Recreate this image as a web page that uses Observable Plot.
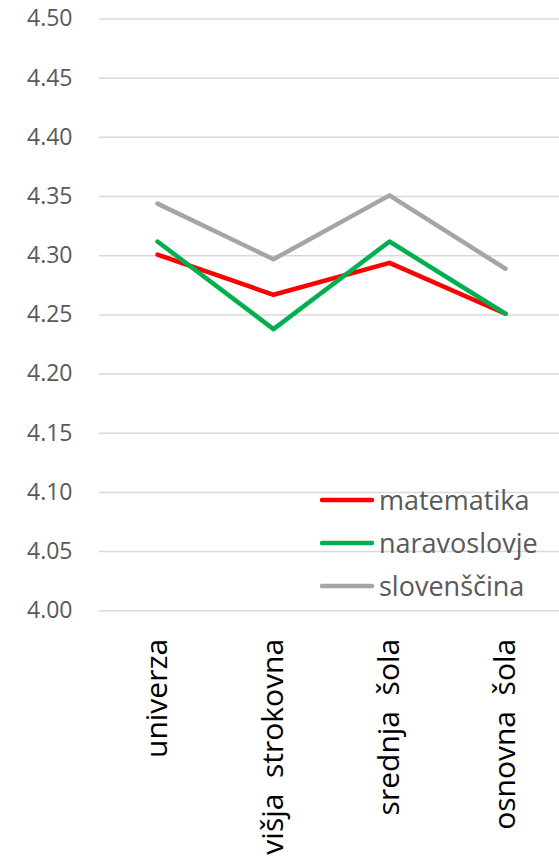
<!DOCTYPE html>
<html>
<head>
<meta charset="utf-8">
<script src="https://cdn.jsdelivr.net/npm/d3@7"></script>
<script src="https://cdn.jsdelivr.net/npm/@observablehq/plot@0.6"></script>
<style>
  html, body { margin: 0; padding: 0; background: #fff; }
  #wrap { position: relative; width: 559px; height: 859px; overflow: hidden; }
  #legend { position: absolute; left: 320px; top: 478px; font-family: "Open Sans", sans-serif; font-size: 27px; color: #595959; }
  #legend .item { display: flex; align-items: center; height: 43px; }
  #legend svg { margin-right: 5px; }
</style>
</head>
<body>
<div id="wrap"><div id="legend"></div></div>
<script>
const categories = ["univerza", "višja  strokovna", "srednja  šola", "osnovna  šola"];
const seriesNames = ["matematika", "naravoslovje", "slovenščina"];
const matematika = [4.301, 4.267, 4.294, 4.251];
const naravoslovje = [4.312, 4.238, 4.312, 4.251];
const slovenscina = [4.344, 4.297, 4.351, 4.289];
const colors = ["#FF0000", "#00B050", "#A5A5A5"];
const yTicks = [4.00, 4.05, 4.10, 4.15, 4.20, 4.25, 4.30, 4.35, 4.40, 4.45, 4.50];

const seriesValues = [matematika, naravoslovje, slovenscina];
const rows = [];
seriesNames.forEach((s, i) => categories.forEach((c, j) => rows.push({series: s, category: c, value: seriesValues[i][j]})));

const chart = Plot.plot({
  width: 559,
  height: 859,
  marginLeft: 99,
  marginRight: 0,
  marginTop: 18.5,
  marginBottom: 248.7,
  style: { fontFamily: "'Open Sans', sans-serif", background: "#fff" },
  x: { type: "point", domain: categories, range: [156, 506], padding: 0 },
  y: { domain: [4.0, 4.5] },
  color: { domain: seriesNames, range: colors },
  marks: [
    Plot.gridY(yTicks, { stroke: "#D9D9D9", strokeOpacity: 1, strokeWidth: 1.5 }),
    Plot.axisY(yTicks, { tickSize: 0, tickPadding: 27, tickFormat: d3.format(".2f"), fontSize: 23, fill: "#595959", label: null }),
    Plot.axisX({ tickSize: 0, tickPadding: 28, tickRotate: -90, fontSize: 30, fill: "#000", label: null, style: { whiteSpace: "pre" } }),
    Plot.line(rows, { x: "category", y: "value", z: "series", stroke: "series", strokeWidth: 4.5, strokeLinejoin: "round", strokeLinecap: "round" })
  ]
});
document.getElementById("wrap").prepend(chart);

const legend = document.getElementById("legend");
seriesNames.forEach((s, i) => {
  const item = document.createElement("div");
  item.className = "item";
  item.innerHTML = `<svg width="54" height="10"><line x1="2" y1="5" x2="52" y2="5" stroke="${colors[i]}" stroke-width="4.5" stroke-linecap="round"/></svg><span>${s}</span>`;
  legend.appendChild(item);
});
</script>
</body>
</html>
